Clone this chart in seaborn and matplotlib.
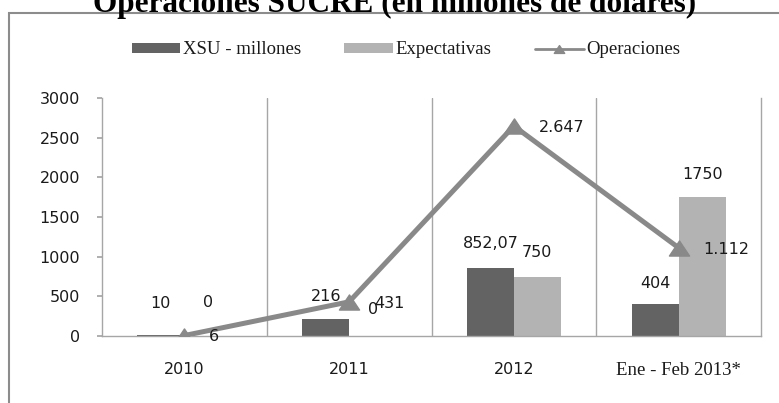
import numpy as np
import pandas as pd
import matplotlib
matplotlib.use("Agg")
import matplotlib.pyplot as plt
from matplotlib.patches import Patch, Rectangle
from matplotlib.lines import Line2D
from matplotlib.path import Path
import seaborn as sns

# datos
categorias = ["2010", "2011", "2012", "Ene - Feb 2013*"]
xsu = [10, 216, 852.07, 404]
expectativas = [0, 0, 750, 1750]
operaciones = [6, 431, 2647, 1112]
xsu_txt = ["10", "216", "852,07", "404"]
exp_txt = ["0", "0", "750", "1750"]
ops_txt = ["6", "431", "2.647", "1.112"]
y_ticks = [0, 500, 1000, 1500, 2000, 2500, 3000]

c_xsu = "#636363"
c_exp = "#b3b3b3"
c_ops = "#898989"
c_grid = "#a6a6a6"
c_txt = "#1a1a1a"

sns.set_theme(style="white")
plt.rcParams["font.family"] = ["DejaVu Sans"]
serif = "Liberation Serif"

df = pd.DataFrame({
    "cat": categorias * 2,
    "serie": ["XSU - millones"] * len(categorias) + ["Expectativas"] * len(categorias),
    "valor": xsu + expectativas,
})

fig = plt.figure(figsize=(7.79, 4.03), dpi=100)
ax = fig.add_axes([102 / 779, 1 - 336 / 403, (761 - 102) / 779, (336 - 98) / 403])

sns.barplot(data=df, x="cat", y="valor", hue="serie", palette=[c_xsu, c_exp],
            width=0.57, saturation=1, errorbar=None, legend=False, ax=ax,
            linewidth=0, edgecolor="none")

# linea de operaciones con triangulos
tri = Path([(-1, -0.75), (1, -0.75), (0, 0.75), (-1, -0.75)],
           [Path.MOVETO, Path.LINETO, Path.LINETO, Path.CLOSEPOLY])
pos = np.arange(len(categorias))
ax.plot(pos, operaciones, color=c_ops, lw=3.6, marker=tri, markersize=14.5,
        solid_joinstyle="miter", zorder=5)

ax.set_xlim(-0.5, len(categorias) - 0.5)
ax.set_ylim(0, 3000)
ax.set_yticks(y_ticks)
ax.set_xlabel("")
ax.set_ylabel("")
for i in range(len(categorias) - 1):
    ax.axvline(i + 0.5, color=c_grid, lw=1, zorder=0)
ax.spines["top"].set_visible(False)
for s in ["left", "right", "bottom"]:
    ax.spines[s].set_color(c_grid)
    ax.spines[s].set_linewidth(1)

ax.tick_params(axis="y", left=True, length=3.6, color=c_grid, pad=12,
               labelsize=11.5, labelcolor=c_txt)
ax.tick_params(axis="x", length=0, pad=19, labelsize=11.5, labelcolor=c_txt)
lab = ax.get_xticklabels()
lab[-1].set_fontfamily(serif)
lab[-1].set_fontsize(13.5)

# etiquetas de datos
w = 0.57 / 4
dy_xsu = [23, 16, 18, 15]
dy_exp = [24, 19, 17, 16]
for i in pos:
    ax.annotate(xsu_txt[i], (i - w, xsu[i]), xytext=(0, dy_xsu[i]), textcoords="offset points",
                ha="center", va="center", fontsize=11.5, color=c_txt)
    ax.annotate(exp_txt[i], (i + w, expectativas[i]), xytext=(0, dy_exp[i]), textcoords="offset points",
                ha="center", va="center", fontsize=11.5, color=c_txt)
    ax.annotate(ops_txt[i], (i, operaciones[i]), xytext=(18, -1), textcoords="offset points",
                ha="left", va="center", fontsize=11.5, color=c_txt, zorder=6)

handles = [
    Patch(facecolor=c_xsu, edgecolor="none", label="XSU - millones"),
    Patch(facecolor=c_exp, edgecolor="none", label="Expectativas"),
    Line2D([], [], color=c_ops, lw=2, marker=tri, markersize=7.5, label="Operaciones"),
]
fig.legend(handles=handles, loc="center", bbox_to_anchor=(406 / 779, 1 - 50 / 403), ncol=3,
           frameon=False, prop={"family": serif, "size": 13.5}, handlelength=2.6,
           handleheight=0.4, handletextpad=0.15, columnspacing=2.3, labelcolor=c_txt)

# marco exterior y titulo
fig.add_artist(Rectangle((9 / 779, -0.2), 1.2, 1.2 - 13 / 403, transform=fig.transFigure,
                         fill=False, edgecolor="#8c8c8c", lw=1.5, clip_on=False))
fig.text(395 / 779, 1 - 12 / 403, "Operaciones SUCRE (en millones de dólares)",
         ha="center", va="baseline", fontsize=22.5, fontweight="bold", family=serif, color="black")

fig.savefig("out.png", dpi=100)
